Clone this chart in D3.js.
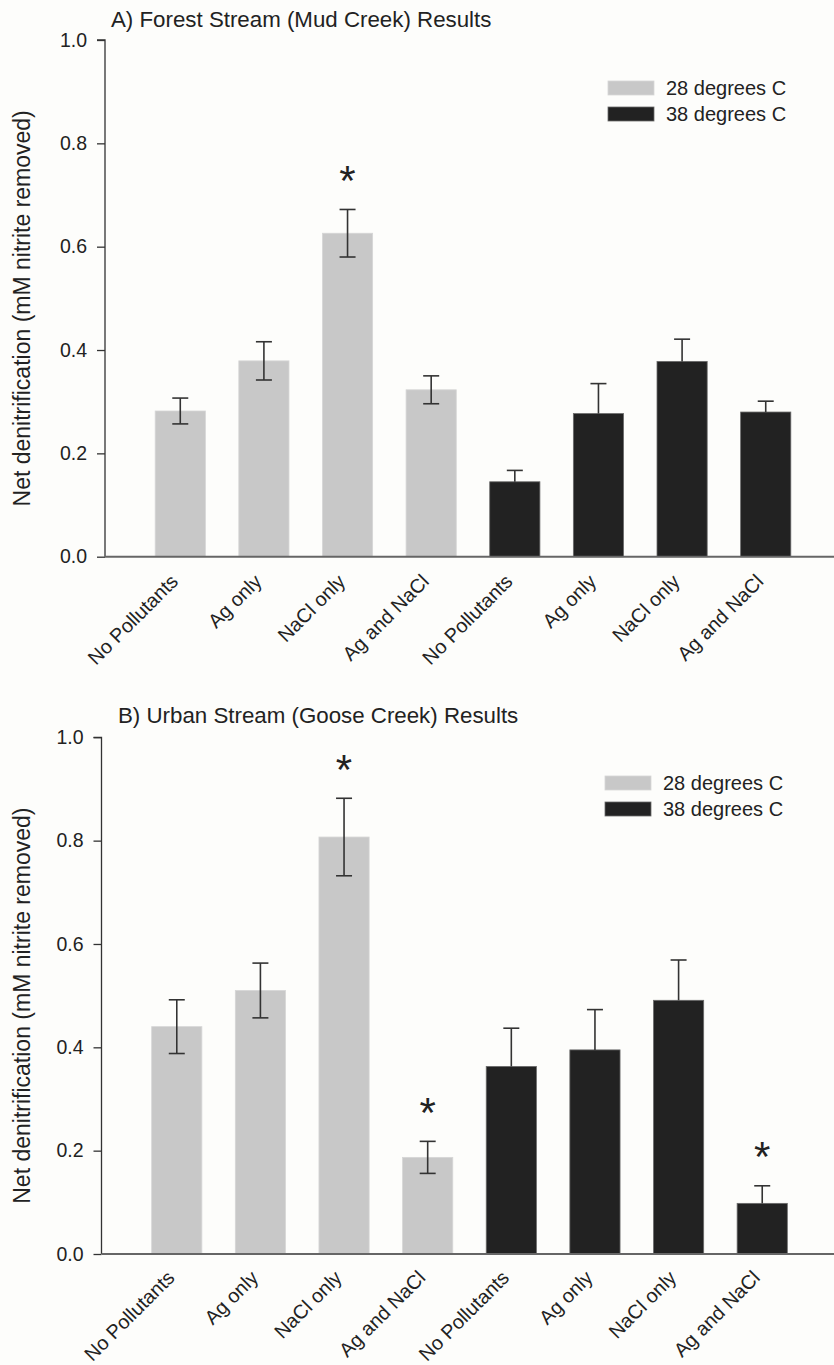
<!DOCTYPE html>
<html>
<head>
<meta charset="utf-8">
<script src="https://cdn.jsdelivr.net/npm/d3@7"></script>
<style>
  html, body { margin: 0; padding: 0; background: #fdfdfb; }
  svg { display: block; font-family: "Liberation Sans", Arial, Helvetica, sans-serif; }
</style>
</head>
<body>
<svg id="chart" width="834" height="1365"></svg>
<script>
// Treatments and temperatures
const treatments = ["No Pollutants", "Ag only", "NaCl only", "Ag and NaCl"];
const temps = ["28 degrees C", "38 degrees C"];
const yTicks = [0, 0.2, 0.4, 0.6, 0.8, 1.0];

// A) Forest stream (Mud Creek): means and error
const forest28 = [0.282, 0.379, 0.626, 0.323];
const forest28Err = [0.025, 0.037, 0.046, 0.027];
const forest38 = [0.145, 0.277, 0.378, 0.280];
const forest38Err = [0.022, 0.058, 0.043, 0.021];
const forestSig28 = [false, false, true, false];
const forestSig38 = [false, false, false, false];

// B) Urban stream (Goose Creek): means and error
const urban28 = [0.440, 0.510, 0.807, 0.187];
const urban28Err = [0.052, 0.053, 0.075, 0.031];
const urban38 = [0.363, 0.395, 0.491, 0.098];
const urban38Err = [0.074, 0.078, 0.078, 0.034];
const urbanSig28 = [false, false, true, true];
const urbanSig38 = [false, false, false, true];

const colors = { "28 degrees C": "#c8c8c8", "38 degrees C": "#222222" };
const ink = "#222";

const svg = d3.select("#chart");

function rows(v28, e28, s28, v38, e38, s38) {
  const out = [];
  treatments.forEach((t, i) => out.push({ key: "28|" + t, label: t, temp: temps[0], value: v28[i], err: e28[i], sig: s28[i] }));
  treatments.forEach((t, i) => out.push({ key: "38|" + t, label: t, temp: temps[1], value: v38[i], err: e38[i], sig: s38[i] }));
  return out;
}

function drawPanel(p) {
  const data = p.data;
  const x = d3.scaleBand()
    .domain(data.map(d => d.key))
    .range([p.axisX, p.axisX + 736])
    .paddingInner(0.4)
    .paddingOuter(0.6);
  const y = d3.scaleLinear().domain([0, 1]).range([p.baseY, p.baseY - 516.7]);

  const g = svg.append("g");

  // title
  g.append("text")
    .attr("x", p.titleX).attr("y", p.titleY)
    .attr("font-size", 22.3).attr("fill", ink)
    .text(p.title);

  // bars
  g.selectAll("rect.bar").data(data).join("rect")
    .attr("class", "bar")
    .attr("x", d => x(d.key))
    .attr("width", x.bandwidth())
    .attr("y", d => y(d.value))
    .attr("height", d => y(0) - y(d.value))
    .attr("fill", d => colors[d.temp])
    .attr("stroke", d => d.temp === temps[1] ? "#6a6a6a" : "#d6d6d6")
    .attr("stroke-width", 0.8);

  // error bars (lower whisker is hidden inside the dark bars)
  const eb = g.selectAll("g.err").data(data).join("g").attr("class", "err")
    .attr("stroke", "#333").attr("stroke-width", 1.6);
  const cx = d => x(d.key) + x.bandwidth() / 2;
  const lowEnd = d => d.temp === temps[1] ? d.value : d.value - d.err;
  eb.append("line")
    .attr("x1", cx).attr("x2", cx)
    .attr("y1", d => y(d.value + d.err)).attr("y2", d => y(lowEnd(d)));
  eb.append("line")
    .attr("x1", d => cx(d) - 8).attr("x2", d => cx(d) + 8)
    .attr("y1", d => y(d.value + d.err)).attr("y2", d => y(d.value + d.err));
  eb.filter(d => d.temp === temps[0]).append("line")
    .attr("x1", d => cx(d) - 8).attr("x2", d => cx(d) + 8)
    .attr("y1", d => y(d.value - d.err)).attr("y2", d => y(d.value - d.err));

  // significance markers
  g.selectAll("text.sig").data(data.filter(d => d.sig)).join("text")
    .attr("class", "sig")
    .attr("x", cx)
    .attr("y", d => y(d.value + d.err) - 39)
    .attr("dy", "0.58em")
    .attr("text-anchor", "middle")
    .attr("font-size", 42).attr("fill", ink)
    .text("*");

  // y axis
  const yAxis = g.append("g")
    .attr("transform", `translate(${p.axisX},0)`)
    .call(d3.axisLeft(y).tickValues(yTicks).tickFormat(d3.format(".1f")).tickSize(8).tickPadding(10));
  yAxis.select(".domain").attr("stroke", "#333").attr("stroke-width", 1.3)
    .attr("d", `M-8,${y(1)}H0V${y(0)}`);
  yAxis.selectAll(".tick line").attr("stroke", "#333").attr("stroke-width", 1.3);
  yAxis.selectAll(".tick text").attr("font-size", 19.5).attr("fill", ink)
    .attr("font-family", "Liberation Sans, Arial, sans-serif");

  // x axis baseline and rotated category labels
  const xAxis = g.append("g")
    .attr("transform", `translate(0,${p.baseY})`)
    .call(d3.axisBottom(x).tickSize(0).tickFormat(k => k.split("|")[1]));
  xAxis.select(".domain").attr("stroke", "#666").attr("stroke-width", 2)
    .attr("d", `M${p.axisX},0H834`);
  xAxis.selectAll(".tick text")
    .attr("font-size", 19.8).attr("fill", ink)
    .attr("font-family", "Liberation Sans, Arial, sans-serif")
    .attr("text-anchor", "end")
    .attr("dy", null)
    .attr("y", 0)
    .attr("transform", `translate(-1,${p.labelDrop}) rotate(-45)`);

  // y axis title
  g.append("text")
    .attr("transform", `translate(30,${(y(0) + y(1)) / 2 + 10}) rotate(-90)`)
    .attr("text-anchor", "middle")
    .attr("font-size", 23).attr("fill", ink)
    .text("Net denitrification (mM nitrite removed)");

  // legend
  const lg = g.append("g").attr("transform", `translate(${p.legendX},${p.legendY})`);
  temps.forEach((t, i) => {
    lg.append("rect")
      .attr("x", 0).attr("y", i * 26)
      .attr("width", 46).attr("height", 14)
      .attr("fill", colors[t])
      .attr("stroke", i === 1 ? "#6a6a6a" : "#d6d6d6").attr("stroke-width", 0.8);
    lg.append("text")
      .attr("x", 58).attr("y", i * 26 + 7)
      .attr("dy", "0.36em")
      .attr("font-size", 20).attr("fill", ink)
      .text(t);
  });
}

drawPanel({
  data: rows(forest28, forest28Err, forestSig28, forest38, forest38Err, forestSig38),
  title: "A) Forest Stream (Mud Creek) Results",
  titleX: 111, titleY: 27,
  axisX: 105, baseY: 556.7,
  labelDrop: 26,
  legendX: 608, legendY: 81
});

drawPanel({
  data: rows(urban28, urban28Err, urbanSig28, urban38, urban38Err, urbanSig38),
  title: "B) Urban Stream (Goose Creek) Results",
  titleX: 118, titleY: 723,
  axisX: 101.5, baseY: 1254,
  labelDrop: 25,
  legendX: 605, legendY: 776
});
</script>
</body>
</html>
